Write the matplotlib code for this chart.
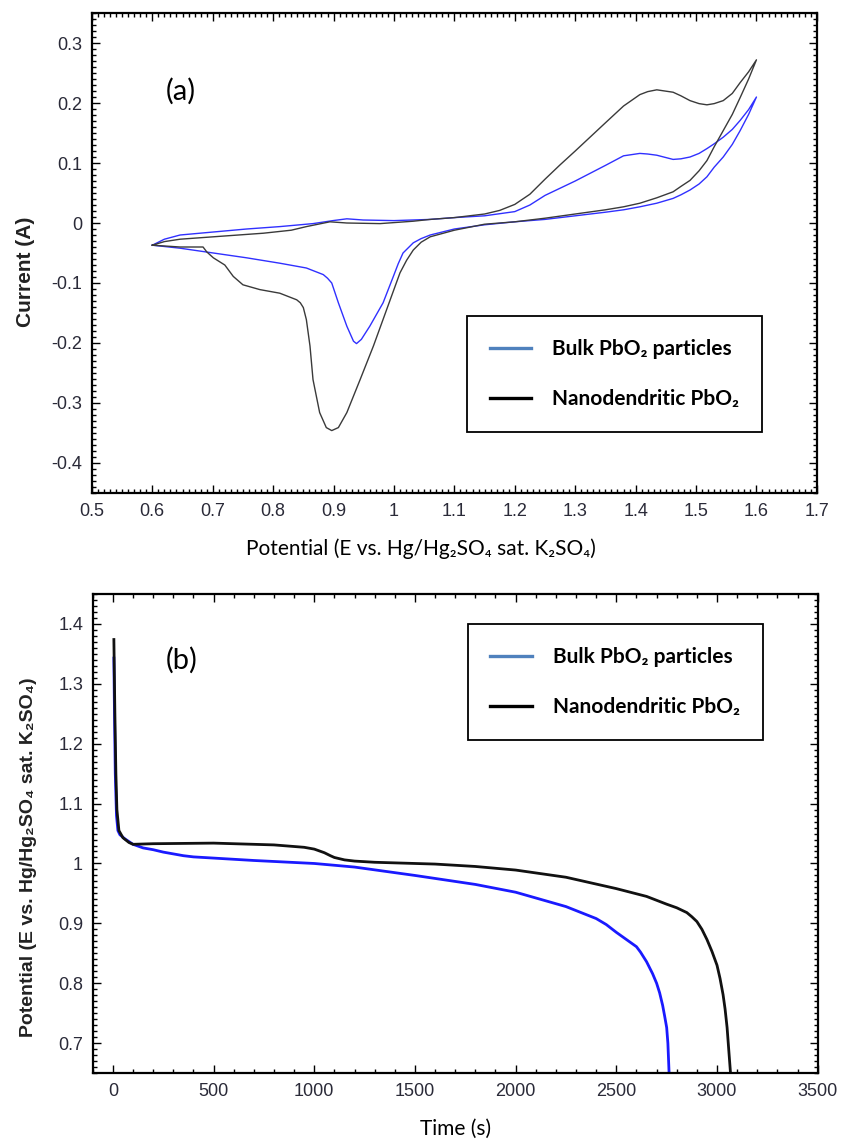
import matplotlib
matplotlib.use("Agg")
import matplotlib.pyplot as plt
from matplotlib.lines import Line2D
from matplotlib.ticker import MultipleLocator

# (a) cyclic voltammograms: forward sweep then return sweep
bulk_E = [0.600, 0.620, 0.646, 0.701, 0.756, 0.811, 0.866, 0.899, 0.922, 0.949, 1.000, 1.060, 1.100,
          1.150, 1.200, 1.225, 1.250, 1.300, 1.350, 1.380, 1.407, 1.420, 1.435, 1.462, 1.475, 1.490,
          1.505, 1.518, 1.530, 1.545, 1.560, 1.573, 1.587, 1.600,
          1.587, 1.573, 1.560, 1.545, 1.530, 1.518, 1.505, 1.490, 1.475, 1.462, 1.435, 1.407, 1.380,
          1.350, 1.300, 1.250, 1.200, 1.150, 1.100, 1.060, 1.045, 1.032, 1.015, 1.007, 0.999, 0.982,
          0.960, 0.946, 0.938, 0.933, 0.922, 0.908, 0.902, 0.897, 0.890, 0.883, 0.855, 0.811, 0.756,
          0.701, 0.646, 0.600]
bulk_I = [-0.037, -0.027, -0.020, -0.015, -0.010, -0.006, -0.001, 0.004, 0.007, 0.005, 0.004, 0.006, 0.009,
          0.012, 0.019, 0.030, 0.046, 0.070, 0.096, 0.112, 0.116, 0.115, 0.113, 0.106, 0.107, 0.110,
          0.116, 0.124, 0.132, 0.143, 0.156, 0.171, 0.189, 0.210,
          0.181, 0.154, 0.131, 0.110, 0.093, 0.077, 0.065, 0.055, 0.047, 0.041, 0.033, 0.027, 0.022,
          0.018, 0.012, 0.006, 0.002, -0.003, -0.010, -0.020, -0.026, -0.033, -0.050, -0.068, -0.089, -0.133,
          -0.172, -0.194, -0.201, -0.197, -0.172, -0.133, -0.115, -0.100, -0.092, -0.086, -0.075, -0.067, -0.058,
          -0.050, -0.042, -0.037]

nano_E = [0.600, 0.620, 0.646, 0.701, 0.784, 0.830, 0.855, 0.894, 0.922, 0.977, 1.032, 1.060, 1.100,
          1.150, 1.175, 1.200, 1.225, 1.250, 1.275, 1.300, 1.350, 1.380, 1.407, 1.420, 1.435, 1.462,
          1.475, 1.490, 1.505, 1.518, 1.530, 1.545, 1.560, 1.573, 1.587, 1.600,
          1.587, 1.573, 1.560, 1.545, 1.530, 1.518, 1.505, 1.490, 1.475, 1.462, 1.435, 1.407, 1.380,
          1.350, 1.300, 1.250, 1.200, 1.150, 1.100, 1.060, 1.045, 1.032, 1.021, 1.010, 0.988, 0.966,
          0.944, 0.922, 0.908, 0.897, 0.888, 0.877, 0.866, 0.861, 0.855, 0.850, 0.845, 0.839, 0.811,
          0.778, 0.750, 0.734, 0.720, 0.701, 0.690, 0.684, 0.646, 0.600]
nano_I = [-0.037, -0.031, -0.027, -0.023, -0.017, -0.012, -0.006, 0.002, 0.000, -0.001, 0.003, 0.006, 0.009,
          0.015, 0.021, 0.031, 0.048, 0.073, 0.097, 0.120, 0.167, 0.195, 0.214, 0.219, 0.222, 0.218,
          0.212, 0.204, 0.199, 0.197, 0.199, 0.204, 0.216, 0.234, 0.252, 0.272,
          0.240, 0.209, 0.181, 0.154, 0.127, 0.104, 0.087, 0.071, 0.061, 0.052, 0.042, 0.033, 0.027,
          0.022, 0.015, 0.008, 0.002, -0.002, -0.012, -0.023, -0.032, -0.045, -0.062, -0.083, -0.144, -0.205,
          -0.261, -0.316, -0.341, -0.346, -0.341, -0.316, -0.261, -0.205, -0.161, -0.141, -0.133, -0.128, -0.117,
          -0.111, -0.103, -0.089, -0.070, -0.058, -0.048, -0.040, -0.040, -0.037]

# (b) discharge curves
bulk_t = [5, 8, 12, 18, 25, 35, 60, 100, 150, 200, 250, 300, 350, 400, 500, 700, 1000, 1200, 1500,
          1800, 2000, 2250, 2400, 2450, 2500, 2550, 2600, 2620, 2650, 2680, 2700, 2715, 2730, 2740,
          2750, 2756, 2762]
bulk_V = [1.343, 1.25, 1.15, 1.08, 1.055, 1.048, 1.041, 1.032, 1.026, 1.023, 1.019, 1.016, 1.013, 1.011,
          1.009, 1.005, 1.000, 0.994, 0.980, 0.965, 0.952, 0.928, 0.908, 0.898, 0.885, 0.873, 0.861,
          0.852, 0.836, 0.816, 0.800, 0.784, 0.763, 0.745, 0.726, 0.700, 0.650]
nano_t = [5, 10, 15, 20, 30, 50, 80, 100, 200, 500, 800, 950, 1000, 1050, 1080, 1100, 1150, 1200,
          1300, 1400, 1600, 1800, 2000, 2250, 2500, 2650, 2750, 2800, 2850, 2875, 2900, 2925, 2950,
          2975, 3000, 3015, 3030, 3040, 3050, 3058, 3067]
nano_V = [1.374, 1.25, 1.15, 1.09, 1.055, 1.043, 1.035, 1.032, 1.033, 1.034, 1.031, 1.027, 1.024, 1.018,
          1.013, 1.010, 1.006, 1.004, 1.002, 1.001, 0.999, 0.995, 0.989, 0.977, 0.958, 0.945, 0.932,
          0.926, 0.918, 0.911, 0.903, 0.890, 0.873, 0.853, 0.830, 0.808, 0.781, 0.757, 0.726, 0.690, 0.650]

labels = ["Bulk PbO\u2082 particles", "Nanodendritic PbO\u2082"]

ARIAL = ["Liberation Sans", "DejaVu Sans"]
CALIBRI = ["Lato", "DejaVu Sans"]
TICKCOL = "#2a2a38"

fig = plt.figure(figsize=(8.43, 11.43), dpi=100)
ax1 = fig.add_axes([0.109, 0.5687, 0.860, 0.4199])
ax2 = fig.add_axes([0.110, 0.0612, 0.860, 0.4191])


def style(ax):
    for s in ax.spines.values():
        s.set_linewidth(1.6)
    ax.tick_params(which="both", direction="in", top=True, right=True, width=1.0,
                   labelsize=13, labelcolor=TICKCOL)
    ax.tick_params(which="major", length=6, pad=7)
    ax.tick_params(which="minor", length=3)
    for lab in ax.get_xticklabels() + ax.get_yticklabels():
        lab.set_family(ARIAL)


def make_legend(ax, anchor):
    handles = [Line2D([], [], color="#4f81bd", lw=2.4),
               Line2D([], [], color="black", lw=2.4)]
    leg = ax.legend(handles, labels, loc="upper left", bbox_to_anchor=anchor,
                    frameon=True, fancybox=False, edgecolor="black", framealpha=1,
                    prop={"family": CALIBRI, "weight": "bold", "size": 15},
                    handlelength=2.0, handletextpad=1.0, labelspacing=1.45,
                    borderpad=1.1, borderaxespad=0)
    leg.get_frame().set_linewidth(1.3)


# ---- panel (a)
ax1.plot(bulk_E, bulk_I, color="#3030ff", lw=1.0)
ax1.plot(nano_E, nano_I, color="#3a3a3a", lw=1.0)
ax1.set_xlim(0.5, 1.7)
ax1.set_ylim(-0.45, 0.35)
ax1.xaxis.set_major_locator(MultipleLocator(0.1))
ax1.xaxis.set_minor_locator(MultipleLocator(0.01))
ax1.yaxis.set_major_locator(MultipleLocator(0.1))
ax1.yaxis.set_minor_locator(MultipleLocator(0.01))
ax1.xaxis.set_major_formatter(plt.FuncFormatter(lambda v, p: f"{v:g}"))
ax1.yaxis.set_major_formatter(plt.FuncFormatter(lambda v, p: f"{round(v, 2):g}"))
style(ax1)
ax1.set_ylabel("Current (A)", family=ARIAL, fontsize=15, fontweight="bold", color="#222222")
ax1.yaxis.set_label_coords(-0.079, 0.46)
ax1.set_xlabel("Potential (E vs. Hg/Hg\u2082SO\u2084 sat. K\u2082SO\u2084)", family=CALIBRI, fontsize=15)
ax1.xaxis.set_label_coords(0.454, -0.094)
ax1.text(0.647, 0.219, "(a)", family=CALIBRI, fontsize=21, ha="center", va="center")
make_legend(ax1, (0.517, 0.369))

# ---- panel (b)
ax2.plot(bulk_t, bulk_V, color="#1a1aff", lw=2.0)
ax2.plot(nano_t, nano_V, color="#111111", lw=2.0)
ax2.set_xlim(-100, 3500)
ax2.set_ylim(0.65, 1.45)
ax2.xaxis.set_major_locator(MultipleLocator(500))
ax2.xaxis.set_minor_locator(MultipleLocator(100))
ax2.yaxis.set_major_locator(MultipleLocator(0.1))
ax2.yaxis.set_minor_locator(MultipleLocator(0.01))
ax2.yaxis.set_major_formatter(plt.FuncFormatter(lambda v, p: f"{round(v, 2):g}"))
style(ax2)
ax2.set_ylabel("Potential (E vs. Hg/Hg\u2082SO\u2084 sat. K\u2082SO\u2084)", family=ARIAL, fontsize=14,
               fontweight="bold", color="#222222")
ax2.yaxis.set_label_coords(-0.077, 0.45)
ax2.set_xlabel("Time (s)", family=CALIBRI, fontsize=15)
ax2.xaxis.set_label_coords(0.5, -0.095)
ax2.text(343, 1.34, "(b)", family=CALIBRI, fontsize=21, ha="center", va="center")
make_legend(ax2, (0.517, 0.937))

fig.savefig("out.png", dpi=100, facecolor="white")
